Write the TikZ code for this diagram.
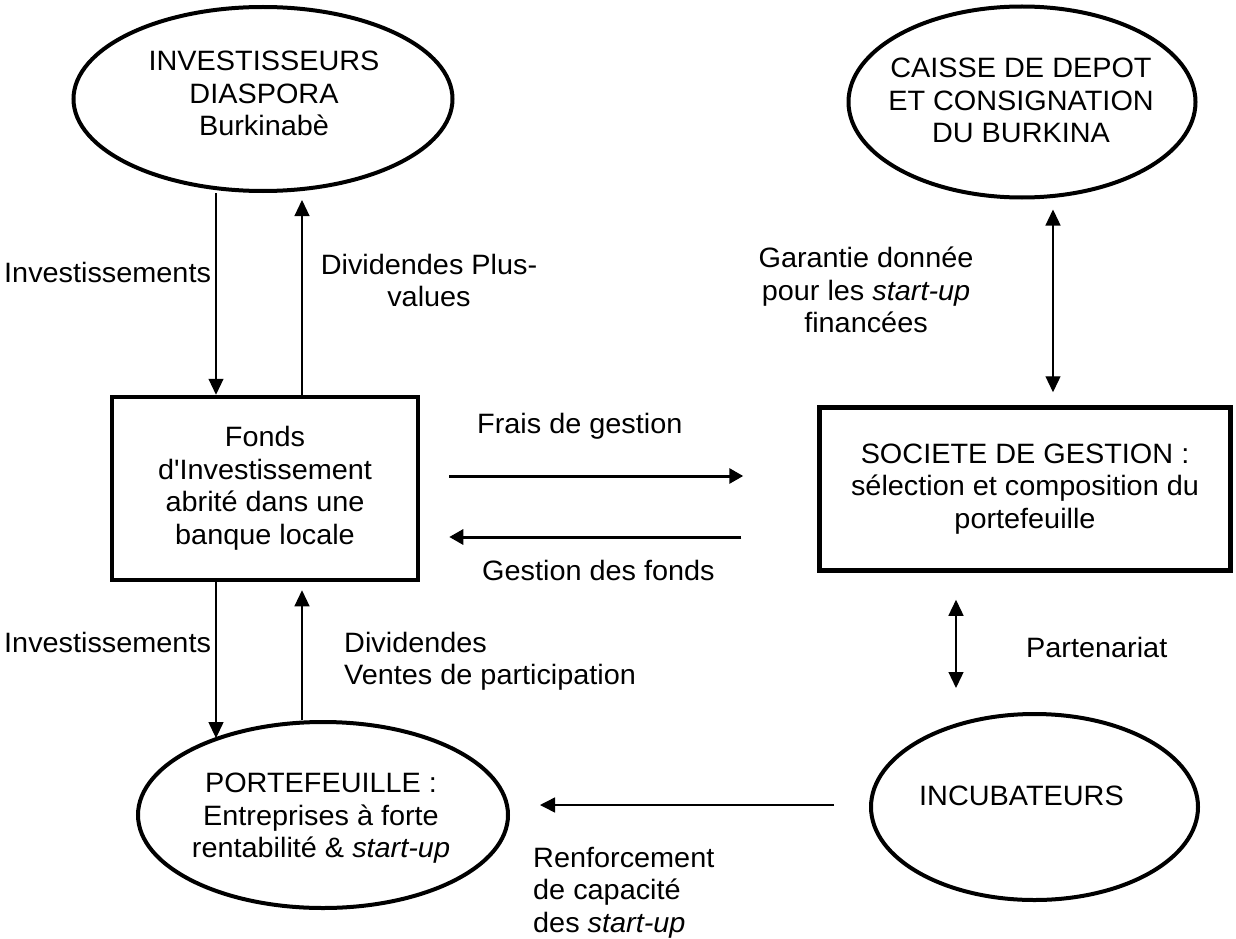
\documentclass[tikz,border=0pt]{standalone}
\usepackage{fontspec}
\setmainfont{Liberation Sans}[FakeStretch=1.03, Ligatures=TeXOff]
\usetikzlibrary{shapes.geometric,arrows.meta}

\begin{document}
\begin{tikzpicture}[x=1pt,y=-1pt,
  every node/.style={font=\fontsize{28}{32.5}\selectfont, inner sep=0pt},
  oval/.style={draw, ellipse, line width=4pt, inner sep=0pt},
  panel/.style={draw, rectangle, line width=4.5pt, align=center, inner sep=0pt},
  txt/.style={align=center},
  ltxt/.style={align=left},
  thinflow/.style={line width=1.1pt, -{Triangle[length=16pt,width=15pt]}},
  thickflow/.style={line width=3pt, -{Triangle[length=14pt,width=15pt]}},
  twoway/.style={line width=1.3pt, {Triangle[length=16pt,width=15pt]}-{Triangle[length=16pt,width=15pt]}},
  weakflow/.style={line width=1.5pt, -{Triangle[length=15pt,width=15pt]}}
]
\useasboundingbox (0,0) rectangle (1236,939);

% ellipses
\node[oval, minimum width=379pt, minimum height=184pt] (inv) at (263,99) {};
\node[txt, anchor=north] (invtext) at (264,51) {INVESTISSEURS\\DIASPORA\\Burkinabè};

\node[oval, minimum width=347pt, minimum height=191pt] (caisse) at (1022,102) {};
\node[txt, anchor=north] (caissetext) at (1021,58) {CAISSE DE DEPOT\\ET CONSIGNATION\\DU BURKINA};

\node[oval, minimum width=370pt, minimum height=186pt] (port) at (323,815) {};
\node[txt, anchor=north] (porttext) at (321,773) {PORTEFEUILLE :\\Entreprises à forte\\rentabilité \& \textit{start-up}};

\node[oval, minimum width=327pt, minimum height=186pt] (incub) at (1034.5,807) {};
\node[anchor=base west] (incubtext) at (919,805) {INCUBATEURS};

% boxes
\node[panel, minimum width=306pt, minimum height=183pt] (fonds) at (265,488.5)
  {Fonds\\d'Investissement\\abrité dans une\\banque locale};
\node[panel, minimum width=411pt, minimum height=163pt] (societe) at (1025,489)
  {SOCIETE DE GESTION :\\sélection et composition du\\portefeuille};

% helper positions
\coordinate (xa) at (216,0);
\coordinate (xb) at (302,0);
\coordinate (xg) at (1053,0);
\coordinate (xp) at (956,0);
\coordinate (yf) at (0,476);
\coordinate (yg) at (0,537);
\coordinate (yr) at (0,805);

% connectors
\draw[thinflow] (inv.south -| xa) -- (fonds.north -| xa);
\draw[thinflow, shorten >=7pt] (fonds.north -| xb) -- (inv.south -| xb);
\draw[thinflow] (fonds.south -| xa) -- (xa |- port.145);
\draw[thinflow, shorten >=8pt] (xb |- port.north) -- (fonds.south -| xb);
\draw[thickflow, shorten <=29pt, shorten >=74pt] (fonds.east |- yf) -- (societe.west |- yf);
\draw[thickflow, shorten <=76pt, shorten >=29pt] (societe.west |- yg) -- (fonds.east |- yg);
\draw[twoway, shorten <=10pt, shorten >=13pt] (caisse.south -| xg) -- (societe.north -| xg);
\draw[twoway, shorten <=27pt, shorten >=24pt] (societe.south -| xp) -- (xp |- incub.north);
\draw[weakflow, shorten <=35pt, shorten >=30pt] (incub.west |- yr) -- (port.east |- yr);

% labels
\node[anchor=base west] (inv1) at (4,282) {Investissements};
\node[txt, anchor=north] (div1) at (429,254) {Dividendes Plus-\\values};
\node[txt, anchor=north] (gar) at (866,247) {Garantie donnée\\pour les \textit{start-up}\\financées};
\node[anchor=base west] (frais) at (477,433) {Frais de gestion};
\node[anchor=base west] (gest) at (482,580) {Gestion des fonds};
\node[anchor=base west] (inv2) at (4,652) {Investissements};
\node[ltxt, anchor=north west] (div2) at (344,632) {Dividendes\\Ventes de participation};
\node[anchor=base west] (part) at (1026,657) {Partenariat};
\node[ltxt, anchor=north west] (renf) at (533,847) {Renforcement\\de capacité\\des \textit{start-up}};
\end{tikzpicture}
\end{document}
